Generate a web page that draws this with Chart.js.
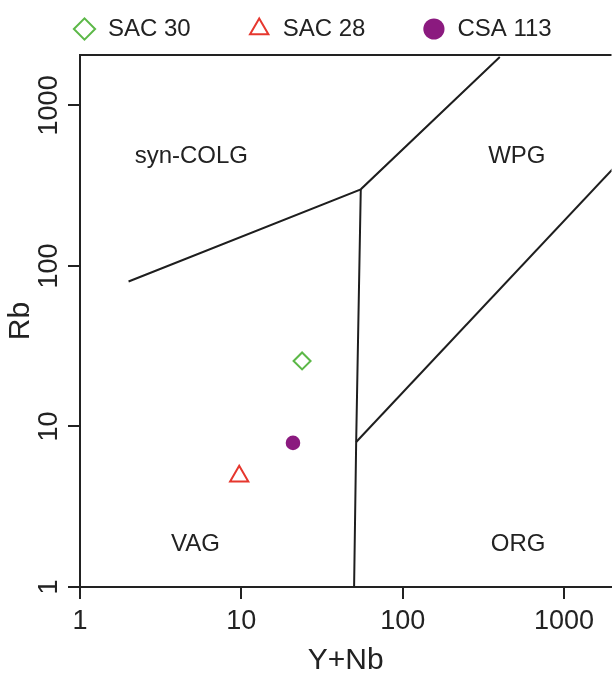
<!DOCTYPE html>
<html>
<head>
<meta charset="utf-8">
<script src="https://cdn.jsdelivr.net/npm/chart.js@4.4.1/dist/chart.umd.min.js"></script>
<style>
  html, body { margin: 0; padding: 0; background: #fff; overflow: hidden; width: 612px; height: 679px; }
</style>
</head>
<body>
<canvas id="graph" width="624" height="679"></canvas>
<script>
// samples: Y+Nb (x) against Rb (y)
const sampleNames = ['SAC 30', 'SAC 28', 'CSA 113'];
const sampleYNb = [23.8, 9.7, 20.9];
const sampleRb = [25.6, 4.9, 7.9];

// field boundaries (Pearce et al. 1984)
const colgX = [2, 55, 400];
const colgY = [80, 300, 2000];
const vagX = [55, 51.5, 50];
const vagY = [300, 8, 1];
const orgX = [51.5, 2000];
const orgY = [8, 400];

// field names and where they sit
const fieldNames = ['syn-COLG', 'WPG', 'VAG', 'ORG'];
const fieldX = [4.9, 510, 5.2, 520];
const fieldY = [480, 480, 1.85, 1.85];

const tickValues = [1, 10, 100, 1000];

const family = '"Liberation Sans", Arial, sans-serif';
const ink = '#222';

function toPoints(xs, ys) {
    return xs.map((x, i) => ({ x: x, y: ys[i] }));
}

function boundary(xs, ys) {
    return {
        label: 'boundary',
        data: toPoints(xs, ys),
        showLine: true,
        borderColor: '#1e1e1e',
        borderWidth: 2,
        pointRadius: 0,
        tension: 0
    };
}

// top edge of the plot frame
const frameTop = {
    id: 'frameTop',
    afterDraw(chart) {
        const { ctx, chartArea } = chart;
        ctx.save();
        ctx.strokeStyle = ink;
        ctx.lineWidth = 2;
        ctx.beginPath();
        ctx.moveTo(chartArea.left - 1, chartArea.top);
        ctx.lineTo(chartArea.right, chartArea.top);
        ctx.stroke();
        ctx.restore();
    }
};

// field labels placed in data coordinates
const fieldLabels = {
    id: 'fieldLabels',
    afterDatasetsDraw(chart) {
        const { ctx } = chart;
        const xs = chart.scales.x, ys = chart.scales.y;
        ctx.save();
        ctx.font = '24px ' + family;
        ctx.fillStyle = ink;
        ctx.textAlign = 'center';
        ctx.textBaseline = 'middle';
        fieldNames.forEach((name, i) => {
            ctx.fillText(name, xs.getPixelForValue(fieldX[i]), ys.getPixelForValue(fieldY[i]));
        });
        ctx.restore();
    }
};

// move the legend row up and to the left like in the figure
const legendPlace = {
    id: 'legendPlace',
    afterLayout(chart) {
        chart.legend.left = 16;
        chart.legend.top = -40;
        chart.legend.right = 700;
    }
};

const canvas = document.getElementById('graph').getContext('2d');

new Chart(canvas, {
    type: 'scatter',
    data: {
        datasets: [
            {
                label: sampleNames[0],
                data: [{ x: sampleYNb[0], y: sampleRb[0] }],
                pointStyle: 'rectRot',
                pointRadius: 8.5,
                pointBorderWidth: 2,
                borderColor: '#5cb848',
                backgroundColor: 'rgba(0,0,0,0)'
            },
            {
                label: sampleNames[1],
                data: [{ x: sampleYNb[1], y: sampleRb[1] }],
                pointStyle: 'triangle',
                pointRadius: 10.5,
                pointBorderWidth: 2,
                borderColor: '#e6372e',
                backgroundColor: 'rgba(0,0,0,0)'
            },
            {
                label: sampleNames[2],
                data: [{ x: sampleYNb[2], y: sampleRb[2] }],
                pointStyle: 'circle',
                pointRadius: 7.3,
                pointBorderWidth: 0,
                borderColor: '#8b1a7f',
                backgroundColor: '#8b1a7f'
            },
            boundary(colgX, colgY),
            boundary(vagX, vagY),
            boundary(orgX, orgY)
        ]
    },
    options: {
        responsive: false,
        animation: false,
        events: [],
        layout: { padding: 0 },
        plugins: {
            tooltip: { enabled: false },
            legend: {
                display: true,
                position: 'top',
                align: 'start',
                maxHeight: 55,
                labels: {
                    usePointStyle: true,
                    boxWidth: 23,
                    boxHeight: 15,
                    padding: 57,
                    color: ink,
                    font: { size: 24, family: family },
                    filter: item => item.datasetIndex < 3
                }
            }
        },
        scales: {
            x: {
                type: 'logarithmic',
                min: 1,
                max: 1970,
                afterBuildTicks: s => { s.ticks = tickValues.map(v => ({ value: v })); },
                afterFit: s => { s.height = 92; },
                border: { display: true, color: ink, width: 2 },
                grid: { drawOnChartArea: false, color: ink, lineWidth: 2, tickLength: 12 },
                ticks: {
                    color: ink,
                    padding: 6,
                    maxRotation: 0,
                    font: { size: 27, family: family },
                    callback: v => String(v)
                },
                title: {
                    display: true,
                    text: 'Y+Nb',
                    color: ink,
                    padding: 0,
                    font: { size: 30, family: family }
                }
            },
            y: {
                type: 'logarithmic',
                min: 1,
                max: 2060,
                afterBuildTicks: s => { s.ticks = tickValues.map(v => ({ value: v })); },
                afterFit: s => { s.width = 80; },
                border: { display: true, color: ink, width: 2 },
                grid: { drawOnChartArea: false, color: ink, lineWidth: 2, tickLength: 12 },
                ticks: {
                    color: ink,
                    minRotation: 90,
                    maxRotation: 90,
                    crossAlign: 'center',
                    padding: -12,
                    font: { size: 27, family: family },
                    callback: v => String(v)
                },
                title: {
                    display: true,
                    text: 'Rb',
                    color: ink,
                    padding: 3,
                    font: { size: 30, family: family }
                }
            }
        }
    },
    plugins: [frameTop, fieldLabels, legendPlace]
});
</script>
</body>
</html>
